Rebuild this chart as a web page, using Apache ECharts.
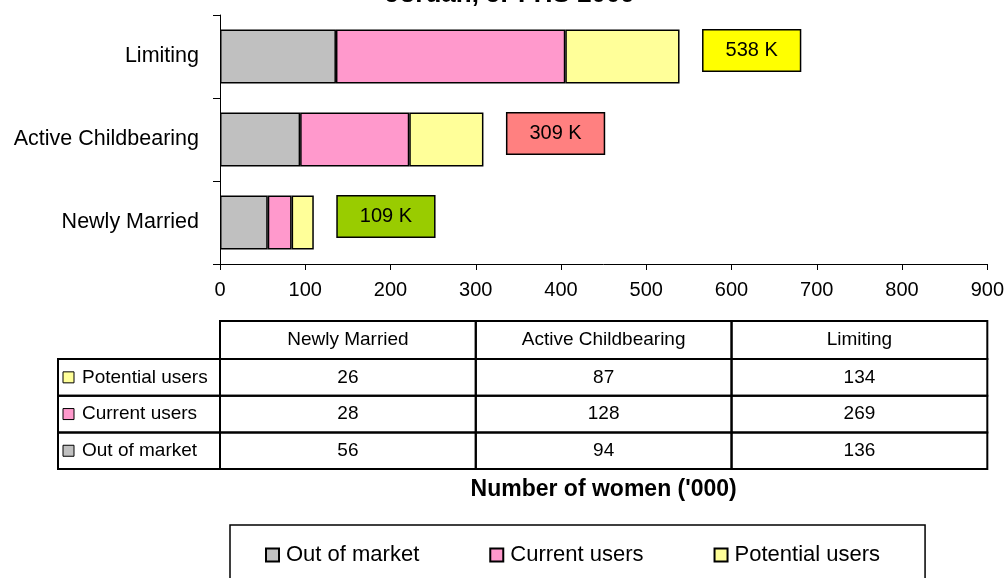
<!DOCTYPE html>
<html>
<head>
<meta charset="utf-8">
<script src="https://cdn.jsdelivr.net/npm/echarts@6/dist/echarts.min.js"></script>
<style>
    html, body { margin: 0; padding: 0; background: #fff; }
    #main { width: 1007px; height: 578px; }
</style>
</head>
<body>
<div id="main"></div>
<script>
// categories, bottom to top on the chart, left to right in the table
var categories = ['Newly Married', 'Active Childbearing', 'Limiting'];
var outOfMarket = [56, 94, 136];
var currentUsers = [28, 128, 269];
var potentialUsers = [26, 87, 134];
// totals as printed in the boxes
var totals = [109, 309, 538];
var totalColors = ['#99CC00', '#FF8080', '#FFFF00'];

var seriesNames = ['Out of market', 'Current users', 'Potential users'];
var seriesColors = ['#C0C0C0', '#FF99CC', '#FFFF99'];

var FONT = 'Liberation Sans, Arial, sans-serif';
var chart = echarts.init(document.getElementById('main'));

/**
 * one stacked bar series
 */
function barSeries(idx, data) {
    return {
        name: seriesNames[idx],
        type: 'bar',
        stack: 'total',
        barWidth: '65%',
        data: data,
        itemStyle: {
            color: seriesColors[idx],
            borderColor: '#000',
            borderWidth: 1.5
        },
        emphasis: { disabled: true }
    };
}

var topSeries = barSeries(2, potentialUsers.map(function (v, i) {
    return { value: v, label: { backgroundColor: totalColors[i] } };
}));
topSeries.label = {
    show: true,
    position: 'right',
    distance: 24,
    offset: [0, -6],
    formatter: function (p) { return totals[p.dataIndex] + ' K'; },
    color: '#000',
    fontSize: 20,
    fontFamily: FONT,
    borderColor: '#000',
    borderWidth: 1.5,
    padding: [10, 22, 10, 22]
};

var option = {
    animation: false,
    textStyle: { fontFamily: FONT, color: '#000' },
    title: {
        text: 'Jordan, JPFHS 2009',
        left: 380,
        top: -23,
        textStyle: { fontSize: 26, fontWeight: 'bold', color: '#000', fontFamily: FONT }
    },
    legend: {
        data: seriesNames,
        left: 230,
        top: 525,
        icon: 'rect',
        itemWidth: 13,
        itemHeight: 13,
        itemGap: 70,
        padding: [19, 45, 40, 35],
        borderColor: '#000',
        borderWidth: 1.5,
        selectedMode: false,
        textStyle: { fontSize: 22, color: '#000', fontFamily: FONT, padding: [0, 0, 0, 2] }
    },
    grid: { left: 220, right: 17, top: 15, bottom: 314, containLabel: false },
    xAxis: {
        type: 'value',
        min: 0,
        max: 900,
        interval: 100,
        axisLine: { show: true, lineStyle: { color: '#000', width: 1 } },
        axisTick: { show: true, length: 6, lineStyle: { color: '#000' } },
        axisLabel: { fontSize: 20, margin: 16, color: '#000', fontFamily: FONT },
        splitLine: { show: false },
        name: "Number of women ('000)",
        nameLocation: 'middle',
        nameGap: 214,
        nameTextStyle: { fontSize: 23, fontWeight: 'bold', color: '#000', fontFamily: FONT }
    },
    yAxis: {
        type: 'category',
        data: categories,
        axisLine: { show: true, lineStyle: { color: '#000', width: 1 } },
        axisTick: { show: true, length: 7, lineStyle: { color: '#000' } },
        axisLabel: { fontSize: 21.5, margin: 21, color: '#000', fontFamily: FONT }
    },
    series: [
        barSeries(0, outOfMarket),
        barSeries(1, currentUsers),
        topSeries
    ]
};
chart.setOption(option);

/**
 * data table under the plot, columns follow the plot width
 */
var plotLeft = chart.convertToPixel({ xAxisIndex: 0 }, 0);
var plotRight = chart.convertToPixel({ xAxisIndex: 0 }, 900);
var colW = (plotRight - plotLeft) / categories.length;
var tableTop = 321, headH = 38, rowH = 36.7, labelLeft = 58;
var rows = [
    { name: seriesNames[2], color: seriesColors[2], values: potentialUsers },
    { name: seriesNames[1], color: seriesColors[1], values: currentUsers },
    { name: seriesNames[0], color: seriesColors[0], values: outOfMarket }
];
var cellStyle = { fill: 'none', stroke: '#000', lineWidth: 2 };
var textStyle = function (txt, x, y, align) {
    return { text: txt, x: x, y: y, align: align || 'center', verticalAlign: 'middle', fontSize: 19, fontFamily: FONT, fill: '#000' };
};
var graphics = [];
categories.forEach(function (c, j) {
    var x = plotLeft + j * colW;
    graphics.push({ type: 'rect', shape: { x: x, y: tableTop, width: colW, height: headH }, style: cellStyle, silent: true });
    graphics.push({ type: 'text', style: textStyle(c, x + colW / 2, tableTop + headH / 2), silent: true });
});
rows.forEach(function (r, i) {
    var y = tableTop + headH + i * rowH;
    graphics.push({ type: 'rect', shape: { x: labelLeft, y: y, width: plotLeft - labelLeft, height: rowH }, style: cellStyle, silent: true });
    graphics.push({ type: 'rect', shape: { x: labelLeft + 5, y: y + rowH / 2 - 5.5, width: 11, height: 11 }, style: { fill: r.color, stroke: '#000', lineWidth: 1 }, silent: true });
    graphics.push({ type: 'text', style: textStyle(r.name, labelLeft + 24, y + rowH / 2, 'left'), silent: true });
    r.values.forEach(function (v, j) {
        var x = plotLeft + j * colW;
        graphics.push({ type: 'rect', shape: { x: x, y: y, width: colW, height: rowH }, style: cellStyle, silent: true });
        graphics.push({ type: 'text', style: textStyle(String(v), x + colW / 2, y + rowH / 2), silent: true });
    });
});
chart.setOption({ graphic: graphics });

window.addEventListener('resize', function () {
    chart.resize();
});
</script>
</body>
</html>
